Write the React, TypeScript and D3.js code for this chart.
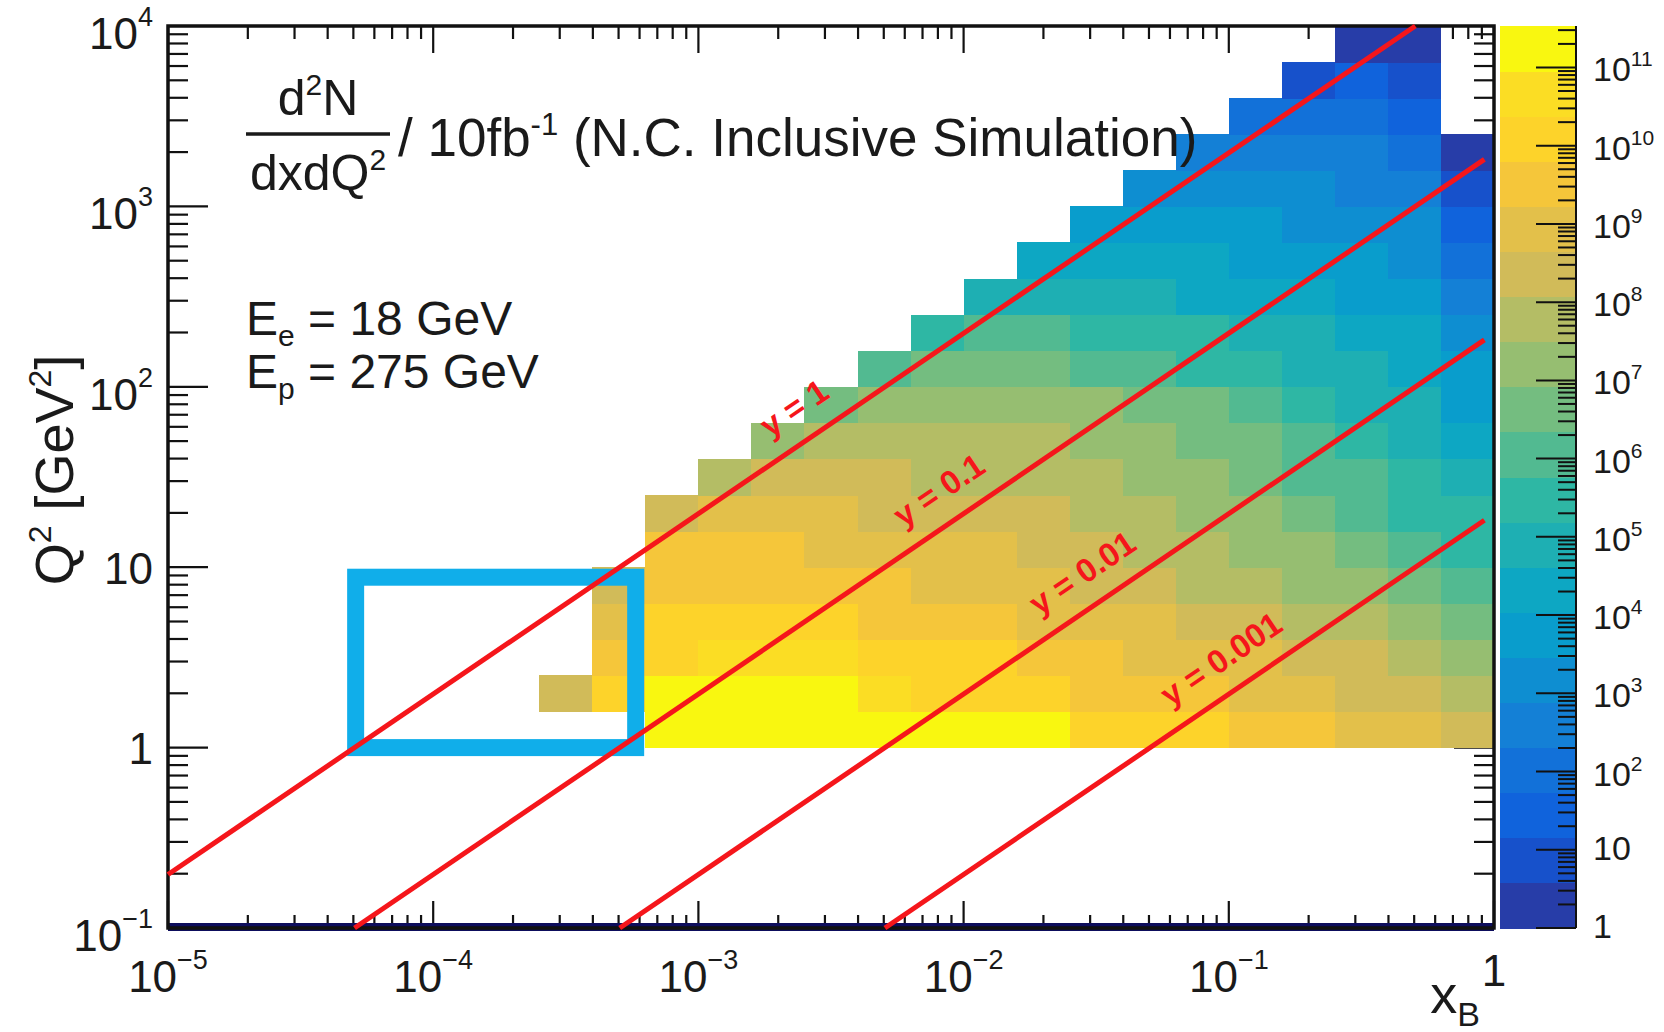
import React from 'react';
import * as d3 from 'd3';

const W = 1664;
const H = 1032;

// frame of the 2D histogram and the palette bar, in page pixels
const PLOT = { left: 168, right: 1494, top: 26, bottom: 928 };
const CBAR = { left: 1500, right: 1576 };

// ROOT kBird palette sampled for 20 contour levels
const BIRD20 = [
  '#273da8', '#1751cb', '#1063dc', '#1271d9', '#1480d6',
  '#0e8ed1', '#099dcc', '#0da7c3', '#1eafb3', '#2eb7a4',
  '#52ba91', '#74bd80', '#96be71', '#b4bd65', '#d1bb59',
  '#e3c04a', '#f5c63a', '#fdd32a', '#fbdd24', '#f9f710',
];

const X_DOMAIN = [1e-5, 1];
const Q2_DOMAIN = [0.1, 1e4];
const Z_MAX = Math.pow(10, 11.53);
const BINS_PER_DECADE = 5;

// log10(counts) per bin; row = Q2 bin (5 bins per decade from 0.1), value k sits in x bin firstXBin + k
const q2Bin05 = [11.3, 11.4, 11.4, 11.3, 11.2, 11.1, 11.0, 10.97, 10.3, 10.2, 10.0, 9.7, 9.5, 9.1, 8.9, 8.5];
const q2Bin06 = [8.3, 10.1, 11.0, 11.1, 11.0, 11.0, 10.7, 10.3, 10.1, 9.9, 9.7, 9.5, 9.3, 9.1, 8.8, 8.6, 8.3, 7.9];
const q2Bin07 = [9.6, 10.2, 10.6, 10.6, 10.5, 10.2, 10.0, 9.9, 9.6, 9.4, 9.1, 8.9, 8.7, 8.4, 8.1, 7.8, 7.3];
const q2Bin08 = [9.0, 10.0, 10.1, 10.1, 9.9, 9.7, 9.5, 9.3, 9.1, 8.9, 8.7, 8.5, 8.2, 7.9, 7.6, 7.2, 6.7];
const q2Bin09 = [8.4, 9.5, 9.6, 9.6, 9.5, 9.3, 9.1, 8.9, 8.7, 8.5, 8.2, 7.9, 7.6, 7.3, 7.0, 6.6, 6.1];
const q2Bin10 = [9.3, 9.4, 9.3, 9.1, 9.0, 8.8, 8.7, 8.5, 8.2, 7.9, 7.6, 7.3, 7.0, 6.6, 6.1, 5.5];
const q2Bin11 = [8.4, 8.8, 8.8, 8.7, 8.5, 8.3, 8.15, 8.15, 7.8, 7.6, 7.2, 7.0, 6.6, 6.1, 5.5, 5.3];
const q2Bin12 = [7.8, 8.2, 8.2, 8.15, 7.9, 7.7, 7.6, 7.55, 7.2, 7.0, 6.6, 6.2, 5.9, 5.5, 4.9];
const q2Bin13 = [7.1, 7.6, 7.7, 7.6, 7.6, 7.55, 7.2, 7.0, 6.7, 6.4, 6.0, 5.5, 4.9, 4.3];
const q2Bin14 = [6.6, 7.0, 7.1, 7.1, 7.0, 6.95, 6.7, 6.4, 6.0, 5.6, 5.0, 4.7, 3.8];
const q2Bin15 = [6.1, 6.5, 6.6, 6.5, 6.3, 6.0, 5.6, 5.3, 5.0, 4.7, 4.3, 3.6];
const q2Bin16 = [5.6, 5.9, 5.9, 5.7, 5.4, 5.25, 4.9, 4.7, 4.4, 4.1, 3.1];
const q2Bin17 = [5.0, 5.0, 4.9, 4.7, 4.4, 4.3, 4.1, 3.8, 3.5, 2.5];
const q2Bin18 = [4.4, 4.4, 4.2, 4.1, 3.9, 3.7, 3.5, 3.2, 1.9];
const q2Bin19 = [3.8, 3.8, 3.6, 3.5, 3.3, 3.1, 2.9, 1.3];
const q2Bin20 = [3.2, 3.1, 3.0, 2.9, 2.7, 2.4, 0.8];
const q2Bin21 = [2.6, 2.5, 2.4, 2.35, 2.0, 0.3];
const q2Bin22 = [2.0, 1.9, 1.8, 1.5];
const q2Bin23 = [1.0, 1.2, 0.9];
const q2Bin24 = [0.4, 0.3];

const ROWS = [
  { q2Bin: 5, firstXBin: 9, values: q2Bin05 },
  { q2Bin: 6, firstXBin: 7, values: q2Bin06 },
  { q2Bin: 7, firstXBin: 8, values: q2Bin07 },
  { q2Bin: 8, firstXBin: 8, values: q2Bin08 },
  { q2Bin: 9, firstXBin: 8, values: q2Bin09 },
  { q2Bin: 10, firstXBin: 9, values: q2Bin10 },
  { q2Bin: 11, firstXBin: 9, values: q2Bin11 },
  { q2Bin: 12, firstXBin: 10, values: q2Bin12 },
  { q2Bin: 13, firstXBin: 11, values: q2Bin13 },
  { q2Bin: 14, firstXBin: 12, values: q2Bin14 },
  { q2Bin: 15, firstXBin: 13, values: q2Bin15 },
  { q2Bin: 16, firstXBin: 14, values: q2Bin16 },
  { q2Bin: 17, firstXBin: 15, values: q2Bin17 },
  { q2Bin: 18, firstXBin: 16, values: q2Bin18 },
  { q2Bin: 19, firstXBin: 17, values: q2Bin19 },
  { q2Bin: 20, firstXBin: 18, values: q2Bin20 },
  { q2Bin: 21, firstXBin: 19, values: q2Bin21 },
  { q2Bin: 22, firstXBin: 20, values: q2Bin22 },
  { q2Bin: 23, firstXBin: 21, values: q2Bin23 },
  { q2Bin: 24, firstXBin: 22, values: q2Bin24 },
];

// constant-inelasticity lines, Q2 = s * x * y with s = 4 * Ee * Ep
const E_ELECTRON = 18;
const E_PROTON = 275;
const yLines = [1, 0.1, 0.01, 0.001];
const yLineLabels = ['y = 1', 'y = 0.1', 'y = 0.01', 'y = 0.001'];
const yLabelX = [2.7e-3, 9.5e-3, 3.3e-2, 0.11];
const LINE_X_END = 0.92;

// the highlighted low-Q2 region
const boxX = [5.1e-5, 5.8e-4];
const boxQ2 = [1, 8.8];

const xTickExp = [-5, -4, -3, -2, -1, 0];
const q2TickExp = [-1, 0, 1, 2, 3, 4];
const zTickExp = [0, 1, 2, 3, 4, 5, 6, 7, 8, 9, 10, 11];

const FONT = '"Liberation Sans", Arial, Helvetica, sans-serif';
const INK = '#1a1a1a';

function minorTicks(lo: number, hi: number, lowExp: number, highExp: number) {
  const out: number[] = [];
  for (let e = lowExp; e <= highExp; e++) {
    for (let m = 2; m <= 9; m++) {
      const v = m * Math.pow(10, e);
      if (v > lo && v < hi) out.push(v);
    }
  }
  return out;
}

function PowLabel({ exp, x, y, anchor, size, supSize, raise }) {
  if (exp === 0) {
    return <text x={x} y={y - raise * 0.28} textAnchor={anchor} fontSize={size}>1</text>;
  }
  if (exp === 1) {
    return <text x={x} y={y - raise * 0.28} textAnchor={anchor} fontSize={size}>10</text>;
  }
  const e = exp < 0 ? `\u2212${-exp}` : `${exp}`;
  return (
    <text x={x} y={y} textAnchor={anchor} fontSize={size}>
      10<tspan dy={-raise} fontSize={supSize}>{e}</tspan>
    </text>
  );
}

export default function App() {
  const x = d3.scaleLog().domain(X_DOMAIN).range([PLOT.left, PLOT.right]);
  const y = d3.scaleLog().domain(Q2_DOMAIN).range([PLOT.bottom, PLOT.top]);
  const z = d3.scaleLog().domain([1, Z_MAX]).range([PLOT.bottom, PLOT.top]);

  const nBands = BIRD20.length;
  const bandWidth = Math.log10(Z_MAX) / nBands;
  const colorOf = (lv: number) => BIRD20[Math.max(0, Math.min(nBands - 1, Math.floor(lv / bandWidth)))];

  const xEdge = (i: number) => X_DOMAIN[0] * Math.pow(10, i / BINS_PER_DECADE);
  const qEdge = (j: number) => Q2_DOMAIN[0] * Math.pow(10, j / BINS_PER_DECADE);

  const cells = ROWS.flatMap((row) =>
    row.values.map((lv, k) => {
      const i = row.firstXBin + k;
      const x0 = x(xEdge(i));
      const x1 = x(xEdge(i + 1));
      const y0 = y(qEdge(row.q2Bin + 1));
      const y1 = y(qEdge(row.q2Bin));
      return { key: `${row.q2Bin}-${i}`, x0, x1, y0, y1, fill: colorOf(lv) };
    })
  );

  const s = 4 * E_ELECTRON * E_PROTON;
  const line = d3.line<[number, number]>().x((d) => x(d[0])).y((d) => y(d[1]));
  const redLines = yLines.map((yy, idx) => {
    const xa = Math.max(X_DOMAIN[0], Q2_DOMAIN[0] / (s * yy));
    const xb = Math.min(LINE_X_END, Q2_DOMAIN[1] / (s * yy));
    const pts: [number, number][] = [[xa, s * xa * yy], [xb, s * xb * yy]];
    const px0 = x(pts[0][0]), py0 = y(pts[0][1]);
    const px1 = x(pts[1][0]), py1 = y(pts[1][1]);
    const angle = (Math.atan2(py1 - py0, px1 - px0) * 180) / Math.PI;
    const lx = yLabelX[idx];
    return { d: line(pts), angle, lx: x(lx), ly: y(s * lx * yy), label: yLineLabels[idx] };
  });

  const xMinor = minorTicks(X_DOMAIN[0], X_DOMAIN[1], -5, -1);
  const qMinor = minorTicks(Q2_DOMAIN[0], Q2_DOMAIN[1], -1, 3);
  const zMinor = minorTicks(1, Z_MAX, 0, 11);

  const X_MAJ = 27, X_MIN = 13, Y_MAJ = 40, Y_MIN = 20;

  const bands = d3.range(nBands).map((k) => ({
    k,
    y0: z(Math.pow(10, (k + 1) * bandWidth)),
    y1: z(Math.pow(10, k * bandWidth)),
  }));

  return (
    <svg
      width={W}
      height={H}
      viewBox={`0 0 ${W} ${H}`}
      style={{ position: 'absolute', left: 0, top: 0, background: '#fff' }}
      fontFamily={FONT}
      fill={INK}
    >
      <rect x={0} y={0} width={W} height={H} fill="#fff" />

      {/* frame ticks, painted under the histogram */}
      <g stroke="#111" strokeWidth={2.2}>
        {xTickExp.map((e) => {
          const px = x(Math.pow(10, e));
          return (
            <g key={`xt${e}`}>
              <line x1={px} x2={px} y1={PLOT.bottom} y2={PLOT.bottom - X_MAJ} />
              <line x1={px} x2={px} y1={PLOT.top} y2={PLOT.top + X_MAJ} />
            </g>
          );
        })}
        {xMinor.map((v) => (
          <g key={`xm${v}`}>
            <line x1={x(v)} x2={x(v)} y1={PLOT.bottom} y2={PLOT.bottom - X_MIN} />
            <line x1={x(v)} x2={x(v)} y1={PLOT.top} y2={PLOT.top + X_MIN} />
          </g>
        ))}
        {q2TickExp.map((e) => {
          const py = y(Math.pow(10, e));
          return (
            <g key={`yt${e}`}>
              <line x1={PLOT.left} x2={PLOT.left + Y_MAJ} y1={py} y2={py} />
              <line x1={PLOT.right} x2={PLOT.right - Y_MAJ} y1={py} y2={py} />
            </g>
          );
        })}
        {qMinor.map((v) => (
          <g key={`ym${v}`}>
            <line x1={PLOT.left} x2={PLOT.left + Y_MIN} y1={y(v)} y2={y(v)} />
            <line x1={PLOT.right} x2={PLOT.right - Y_MIN} y1={y(v)} y2={y(v)} />
          </g>
        ))}
      </g>

      {/* histogram cells */}
      <g shapeRendering="crispEdges">
        {cells.map((c) => (
          <rect key={c.key} x={c.x0} y={c.y0} width={c.x1 - c.x0 + 0.5} height={c.y1 - c.y0 + 0.5} fill={c.fill} />
        ))}
      </g>

      {/* dark band along the lower edge */}
      <rect x={PLOT.left} y={PLOT.bottom - 5} width={PLOT.right - PLOT.left} height={8} fill="#0d0d5c" />

      <rect
        x={PLOT.left}
        y={PLOT.top}
        width={PLOT.right - PLOT.left}
        height={PLOT.bottom - PLOT.top}
        fill="none"
        stroke="#111"
        strokeWidth={3.5}
      />

      {/* highlighted region */}
      <rect
        x={x(boxX[0])}
        y={y(boxQ2[1])}
        width={x(boxX[1]) - x(boxX[0])}
        height={y(boxQ2[0]) - y(boxQ2[1])}
        fill="none"
        stroke="#10aeea"
        strokeWidth={17}
      />

      {/* y = const lines */}
      {redLines.map((l) => (
        <g key={l.label}>
          <path d={l.d} stroke="#f5161b" strokeWidth={5} fill="none" />
          <text
            transform={`translate(${l.lx},${l.ly}) rotate(${l.angle})`}
            y={-22}
            textAnchor="middle"
            fontSize={33}
            fontWeight="bold"
            fill="#f5161b"
          >
            {l.label}
          </text>
        </g>
      ))}

      {/* axis labels */}
      {xTickExp.map((e) => (
        <PowLabel key={`xl${e}`} exp={e} x={x(Math.pow(10, e))} y={992} anchor="middle" size={44} supSize={27} raise={23} />
      ))}
      {q2TickExp.map((e) => (
        <PowLabel
          key={`yl${e}`}
          exp={e}
          x={153}
          y={y(Math.pow(10, e)) + 23}
          anchor="end"
          size={44}
          supSize={27}
          raise={23}
        />
      ))}

      <text transform="translate(73,470) rotate(-90)" textAnchor="middle" fontSize={54}>
        Q<tspan dy={-22} fontSize={32}>2</tspan>
        <tspan dy={22}> [GeV</tspan>
        <tspan dy={-22} fontSize={32}>2</tspan>
        <tspan dy={22}>]</tspan>
      </text>
      <text x={1480} y={1013} textAnchor="end" fontSize={54}>
        x<tspan dy={13} fontSize={34}>B</tspan>
      </text>

      {/* title */}
      <text x={318} y={115} textAnchor="middle" fontSize={50}>
        d<tspan dy={-20} fontSize={30}>2</tspan>
        <tspan dy={20}>N</tspan>
      </text>
      <line x1={246} x2={390} y1={134} y2={134} stroke={INK} strokeWidth={3.5} />
      <text x={318} y={190} textAnchor="middle" fontSize={50}>
        dxdQ<tspan dy={-20} fontSize={30}>2</tspan>
      </text>
      <text x={398} y={156} fontSize={53}>
        / 10fb<tspan dy={-21} fontSize={31}>-1</tspan>
        <tspan dy={21}> (N.C. Inclusive Simulation)</tspan>
      </text>

      <text x={246} y={335} fontSize={48}>
        E<tspan dy={11} fontSize={30}>e</tspan>
        <tspan dy={-11}> = 18 GeV</tspan>
      </text>
      <text x={246} y={388} fontSize={48}>
        E<tspan dy={11} fontSize={30}>p</tspan>
        <tspan dy={-11}> = 275 GeV</tspan>
      </text>

      {/* palette */}
      <g shapeRendering="crispEdges">
        {bands.map((b) => (
          <rect
            key={`b${b.k}`}
            x={CBAR.left}
            y={b.y0}
            width={CBAR.right - CBAR.left}
            height={b.y1 - b.y0 + 0.5}
            fill={BIRD20[b.k]}
          />
        ))}
      </g>
      <g stroke="#111" strokeWidth={2}>
        <line x1={CBAR.right} x2={CBAR.right} y1={PLOT.top} y2={PLOT.bottom} />
        {zTickExp.map((e) => (
          <line key={`zt${e}`} x1={CBAR.right} x2={CBAR.right - 40} y1={z(Math.pow(10, e))} y2={z(Math.pow(10, e))} />
        ))}
        {zMinor.map((v) => (
          <line key={`zm${v}`} x1={CBAR.right} x2={CBAR.right - 18} y1={z(v)} y2={z(v)} />
        ))}
      </g>
      {zTickExp.map((e) => (
        <PowLabel key={`zl${e}`} exp={e} x={1593} y={z(Math.pow(10, e)) + 14} anchor="start" size={34} supSize={21} raise={15} />
      ))}
    </svg>
  );
}
